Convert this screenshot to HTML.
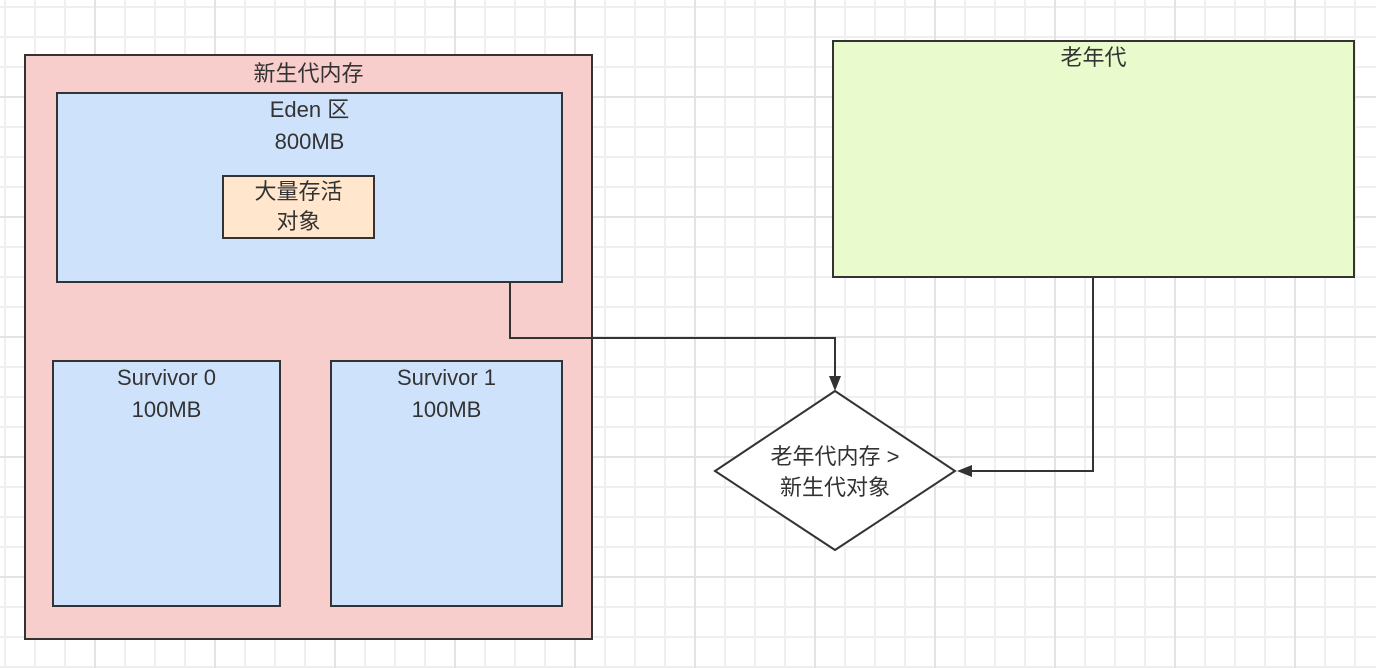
<!DOCTYPE html>
<html><head><meta charset="utf-8"><style>
body{margin:0;width:1376px;height:668px;overflow:hidden;background:#fff;
background-image:
linear-gradient(to right,#e3e3e3 2px,transparent 2px),
linear-gradient(to bottom,#e3e3e3 2px,transparent 2px),
linear-gradient(to right,#efefef 2px,transparent 2px),
linear-gradient(to bottom,#efefef 2px,transparent 2px);
background-size:120px 120px,120px 120px,30px 30px,30px 30px;
background-position:94px 96px,94px 96px,4px 6px,4px 6px;
font-family:"Liberation Sans","Noto Sans CJK SC",sans-serif;color:#333;}
.b{position:absolute;box-sizing:border-box;border:2px solid #333;text-align:center;font-size:22px;line-height:32px;}
</style></head><body>
<div class="b" style="left:24px;top:54px;width:569px;height:586px;background:#f8cecc;line-height:36px;">新生代内存</div>
<div class="b" style="left:56px;top:92px;width:507px;height:191px;background:#cfe2fb;">Eden 区<br>800MB</div>
<div class="b" style="left:222px;top:175px;width:153px;height:64px;background:#ffe6cc;line-height:30px;">大量存活<br>对象</div>
<div class="b" style="left:52px;top:360px;width:229px;height:247px;background:#cfe2fb;">Survivor 0<br>100MB</div>
<div class="b" style="left:330px;top:360px;width:233px;height:247px;background:#cfe2fb;">Survivor 1<br>100MB</div>
<div class="b" style="left:832px;top:40px;width:523px;height:238px;background:#e9fbcc;">老年代</div>
<svg width="1376" height="668" style="position:absolute;left:0;top:0">
<polygon points="835,391 955,471 835,550 715,471" fill="#fff" stroke="#333" stroke-width="2"/>
<polyline points="510,282 510,338 835,338 835,378" fill="none" stroke="#333" stroke-width="2"/>
<polygon points="829,376 841,376 835,391" fill="#333"/>
<polyline points="1093,277 1093,471 970,471" fill="none" stroke="#333" stroke-width="2"/>
<polygon points="972,465 972,477 957,471" fill="#333"/>
<text x="835" y="464" text-anchor="middle" font-size="22" fill="#333" font-family="Liberation Sans,Noto Sans CJK SC,sans-serif">老年代内存 &gt;</text>
<text x="835" y="495" text-anchor="middle" font-size="22" fill="#333" font-family="Liberation Sans,Noto Sans CJK SC,sans-serif">新生代对象</text>
</svg>
</body></html>
